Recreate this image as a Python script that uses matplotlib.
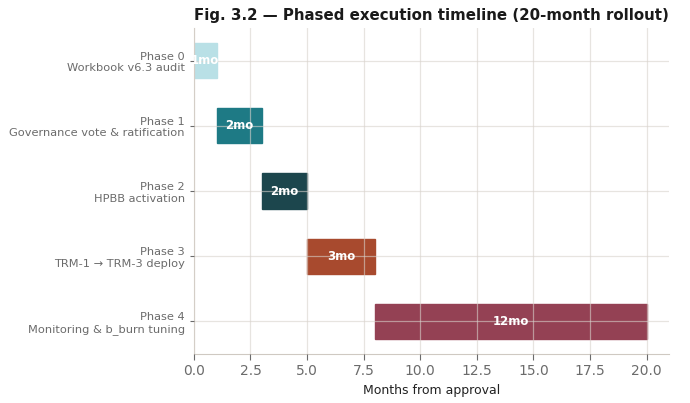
import matplotlib.pyplot as plt

phases = ['Phase 0\nWorkbook v6.3 audit',
          'Phase 1\nGovernance vote & ratification',
          'Phase 2\nHPBB activation',
          'Phase 3\nTRM-1 → TRM-3 deploy',
          'Phase 4\nMonitoring & b_burn tuning']
starts = [0, 1, 3, 5, 8]
durations = [1, 2, 2, 3, 12]
colors = ['#b9e0e6', '#1e7a85', '#1c464d', '#a84a2e', '#944154']

fig, ax = plt.subplots(figsize=(6.9, 4.03), dpi=100)
fig.subplots_adjust(left=0.281, right=0.97, top=0.93, bottom=0.122)

y = list(range(len(phases)))
ax.barh(y, durations, left=starts, height=0.54, color=colors,
        edgecolor=colors, linewidth=1, zorder=1)

for i in range(len(phases)):
    ax.text(starts[i] + durations[i] / 2, i, f'{durations[i]}mo',
            ha='center', va='center', color='white', fontsize=8.5,
            fontweight='bold', zorder=3)

ax.set_yticks(y)
ax.set_yticklabels(phases, color='#6b6b6b', fontsize=8.2)
ax.set_ylim(4.5, -0.5)
ax.set_xlim(0, 21)
ax.set_xticks([0, 2.5, 5, 7.5, 10, 12.5, 15, 17.5, 20])
ax.tick_params(axis='x', colors='#6b6b6b', labelsize=10, length=4)
ax.tick_params(axis='y', length=3, colors='#6b6b6b')

ax.set_axisbelow(False)
ax.grid(True, color='#d8d2cc', linewidth=0.9, alpha=0.6, zorder=2)

for s in ['top', 'right']:
    ax.spines[s].set_visible(False)
for s in ['left', 'bottom']:
    ax.spines[s].set_color('#cfc9c2')

ax.set_xlabel('Months from approval', fontsize=9, color='#222222')
ax.set_title('Fig. 3.2 — Phased execution timeline (20-month rollout)',
             fontsize=10.8, fontweight='bold', color='#1a1a1a', loc='left')

plt.savefig('out.png', dpi=100)
